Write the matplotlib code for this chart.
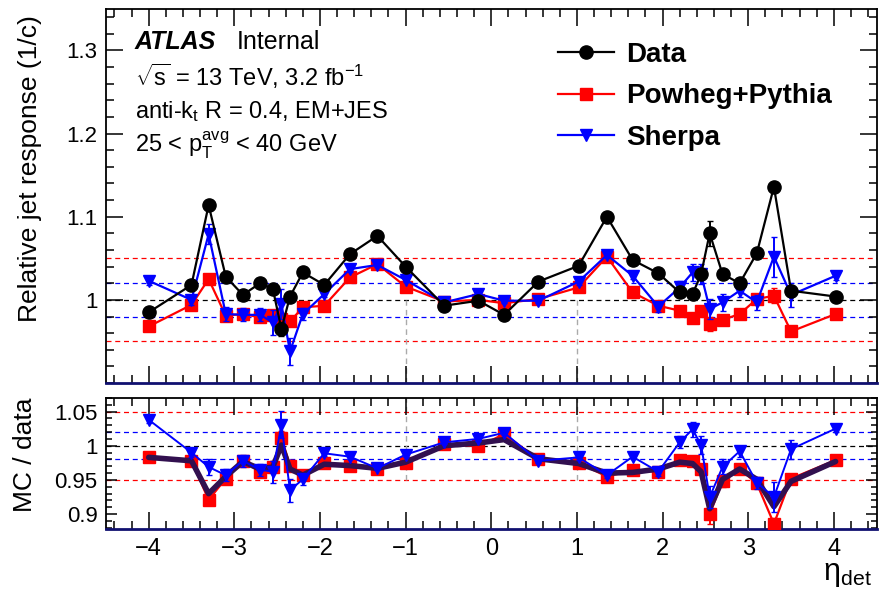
import numpy as np
import matplotlib
matplotlib.use("Agg")
import matplotlib.pyplot as plt
from matplotlib.ticker import MultipleLocator
from matplotlib.lines import Line2D

plt.rcParams["font.family"] = ["Liberation Sans", "DejaVu Sans"]
plt.rcParams["mathtext.fontset"] = "custom"
plt.rcParams["mathtext.rm"] = "Liberation Sans"
plt.rcParams["mathtext.it"] = "Liberation Sans:italic"

# -----------------------------
# Data
# -----------------------------
eta = [-4.0, -3.5, -3.3, -3.1, -2.9, -2.7, -2.55, -2.45, -2.35, -2.2, -1.95, -1.65,
       -1.33, -1.0, -0.55, -0.15, 0.15, 0.55, 1.02, 1.35, 1.65, 1.95, 2.2, 2.35,
       2.45, 2.55, 2.7, 2.9, 3.1, 3.3, 3.5, 4.02]

data = [0.985, 1.018, 1.114, 1.028, 1.006, 1.020, 1.013, 0.965, 1.004, 1.033, 1.018, 1.055,
        1.077, 1.040, 0.993, 0.999, 0.982, 1.022, 1.041, 1.100, 1.048, 1.032, 1.009, 1.007,
        1.031, 1.080, 1.031, 1.020, 1.056, 1.136, 1.011, 1.004]
data_err = [0.003, 0.003, 0.004, 0.004, 0.004, 0.005, 0.005, 0.008, 0.006, 0.005, 0.004, 0.003,
            0.003, 0.003, 0.003, 0.003, 0.003, 0.003, 0.003, 0.003, 0.003, 0.003, 0.004, 0.006,
            0.005, 0.015, 0.006, 0.006, 0.005, 0.005, 0.004, 0.003]

powheg = [0.968, 0.994, 1.025, 0.981, 0.983, 0.979, 0.982, 0.977, 0.974, 0.991, 0.993, 1.027,
          1.043, 1.016, 0.998, 1.000, 0.996, 1.001, 1.015, 1.052, 1.009, 0.993, 0.987, 0.978,
          0.987, 0.971, 0.976, 0.983, 1.001, 1.005, 0.962, 0.983]
powheg_err = [0.003, 0.003, 0.005, 0.005, 0.005, 0.005, 0.006, 0.006, 0.006, 0.004, 0.003, 0.003,
              0.003, 0.003, 0.003, 0.003, 0.003, 0.003, 0.003, 0.003, 0.003, 0.003, 0.004, 0.005,
              0.006, 0.009, 0.006, 0.005, 0.005, 0.009, 0.006, 0.003]

sherpa = [1.023, 1.000, 1.079, 0.983, 0.982, 0.982, 0.973, 0.995, 0.938, 0.983, 1.007, 1.037,
          1.042, 1.024, 0.997, 1.007, 0.999, 0.999, 1.022, 1.054, 1.029, 0.992, 1.015, 1.033,
          1.031, 0.989, 0.997, 1.011, 0.997, 1.052, 1.006, 1.029]
sherpa_err = [0.005, 0.006, 0.012, 0.008, 0.008, 0.008, 0.015, 0.018, 0.016, 0.007, 0.004, 0.004,
              0.003, 0.003, 0.003, 0.003, 0.003, 0.003, 0.004, 0.004, 0.004, 0.006, 0.008, 0.010,
              0.012, 0.012, 0.010, 0.008, 0.009, 0.024, 0.014, 0.005]

# ratios MC / data
powheg_ratio = [0.983, 0.978, 0.921, 0.952, 0.978, 0.962, 0.969, 1.012, 0.971, 0.957, 0.975, 0.971,
                0.966, 0.975, 1.002, 0.999, 1.017, 0.980, 0.975, 0.955, 0.964, 0.962, 0.979, 0.977,
                0.966, 0.900, 0.948, 0.966, 0.945, 0.886, 0.952, 0.979]
powheg_ratio_err = [0.003, 0.003, 0.005, 0.006, 0.006, 0.007, 0.008, 0.010, 0.008, 0.006, 0.004, 0.003,
                    0.003, 0.003, 0.003, 0.003, 0.003, 0.003, 0.003, 0.003, 0.003, 0.003, 0.005, 0.007,
                    0.008, 0.014, 0.008, 0.007, 0.006, 0.009, 0.007, 0.003]

sherpa_ratio = [1.038, 0.990, 0.969, 0.957, 0.978, 0.965, 0.962, 1.031, 0.935, 0.951, 0.989, 0.984,
                0.967, 0.987, 1.005, 1.010, 1.019, 0.978, 0.983, 0.957, 0.984, 0.962, 1.005, 1.024,
                1.001, 0.925, 0.969, 0.992, 0.946, 0.925, 0.995, 1.025]
sherpa_ratio_err = [0.005, 0.006, 0.012, 0.009, 0.009, 0.009, 0.016, 0.020, 0.017, 0.008, 0.004, 0.004,
                    0.003, 0.003, 0.003, 0.003, 0.003, 0.003, 0.004, 0.004, 0.004, 0.006, 0.009, 0.011,
                    0.013, 0.016, 0.011, 0.008, 0.009, 0.022, 0.014, 0.005]

smooth_ratio = [0.983, 0.978, 0.930, 0.955, 0.977, 0.966, 0.969, 1.001, 0.966, 0.957, 0.973, 0.971,
                0.967, 0.976, 1.000, 1.004, 1.009, 0.981, 0.974, 0.960, 0.961, 0.966, 0.976, 0.974,
                0.962, 0.908, 0.951, 0.966, 0.951, 0.911, 0.948, 0.977]

# -----------------------------
# Figure
# -----------------------------
fig = plt.figure(figsize=(8.82, 5.92), dpi=100)
ax1 = fig.add_axes([0.120, 0.353, 0.874, 0.632])
ax2 = fig.add_axes([0.120, 0.106, 0.874, 0.222])

for ax in (ax1, ax2):
    ax.set_xlim(-4.5, 4.5)
    ax.xaxis.set_major_locator(MultipleLocator(1))
    ax.xaxis.set_minor_locator(MultipleLocator(0.2))
    ax.tick_params(which="both", direction="in", top=True, right=True, width=1.1,
                   labelsize=16, pad=6)
    for s in ax.spines.values():
        s.set_linewidth(1.3)
    ax.spines["bottom"].set_color("#101070")
    ax.spines["bottom"].set_linewidth(2)

# reference lines
for ax in (ax1, ax2):
    ax.axhline(1.0, color="black", ls=(0, (4, 3)), lw=0.9, zorder=1)
    ax.axhline(1.02, color="blue", ls=(0, (4, 3)), lw=0.9, zorder=1)
    ax.axhline(0.98, color="blue", ls=(0, (4, 3)), lw=0.9, zorder=1)
    ax.axhline(1.05, color="red", ls=(0, (4, 3)), lw=0.9, zorder=1)
    ax.axhline(0.95, color="red", ls=(0, (4, 3)), lw=0.9, zorder=1)

# -----------------------------
# Top panel
# -----------------------------
ax1.set_ylim(0.9, 1.35)
ax1.yaxis.set_minor_locator(MultipleLocator(0.02))
ax1.tick_params(which="major", length=12)
ax1.tick_params(which="minor", length=6)
ax1.tick_params(axis="x", labelbottom=False)
ax1.set_yticks([1.0, 1.1, 1.2, 1.3])
ax1.set_yticklabels(["1", "1.1", "1.2", "1.3"])
ax1.vlines([-1, 1], 0.9, 1.0, colors="#aaaaaa", linestyles=(0, (4, 3)), lw=1, zorder=1)

ax1.errorbar(eta, powheg, yerr=powheg_err, color="red", marker="s", ms=8.5, lw=1.6,
             capsize=2.5, elinewidth=1.4, zorder=3)
ax1.errorbar(eta, sherpa, yerr=sherpa_err, color="blue", marker="v", ms=9, lw=1.6,
             capsize=2.5, elinewidth=1.4, zorder=4)
ax1.errorbar(eta, data, yerr=data_err, color="black", marker="o", ms=9.5, lw=1.6,
             capsize=2.5, elinewidth=1.4, zorder=5)

handles = [Line2D([], [], color="black", marker="o", ms=9.5, lw=1.6),
           Line2D([], [], color="red", marker="s", ms=8.5, lw=1.6),
           Line2D([], [], color="blue", marker="v", ms=9, lw=1.6)]
ax1.legend(handles, ["Data", "Powheg+Pythia", "Sherpa"], loc="upper left",
           bbox_to_anchor=(558 / 882, 1 - 42 / 592), bbox_transform=fig.transFigure,
           frameon=False, borderpad=0, borderaxespad=0, handlelength=2.0,
           handletextpad=0.45, labelspacing=0.55, prop={"weight": "bold", "size": 20})

fig.text(0.153, 0.917, "ATLAS", fontsize=18, fontweight="bold", fontstyle="italic", va="baseline")
fig.text(0.268, 0.917, "Internal", fontsize=18, va="baseline")
fig.text(0.153, 0.855, r"$\sqrt{\mathrm{s}}$ = 13 TeV, 3.2 fb$^{-1}$", fontsize=17, va="baseline")
fig.text(0.153, 0.801, r"anti-k$_\mathrm{t}$ R = 0.4, EM+JES", fontsize=17, va="baseline")
fig.text(0.153, 0.742, r"25 < $\mathrm{p}_\mathrm{T}^\mathrm{avg}$ < 40 GeV", fontsize=17, va="baseline")

fig.text(0.034, 0.975, "Relative jet response (1/c)", rotation=90, fontsize=19,
         ha="center", va="top")

# -----------------------------
# Ratio panel
# -----------------------------
ax2.set_ylim(0.878, 1.07)
ax2.set_yticks([0.9, 0.95, 1.0, 1.05])
ax2.set_yticklabels(["0.9", "0.95", "1", "1.05"])
ax2.yaxis.set_minor_locator(MultipleLocator(0.01))
ax2.tick_params(axis="x", which="major", length=12, labelsize=17)
ax2.tick_params(axis="x", which="minor", length=6)
ax2.tick_params(axis="y", which="major", length=8)
ax2.tick_params(axis="y", which="minor", length=4)
ax2.vlines([-1, 1], 0.95, 1.07, colors="#aaaaaa", linestyles=(0, (4, 3)), lw=1, zorder=1)

ax2.errorbar(eta, powheg_ratio, yerr=powheg_ratio_err, color="red", marker="s", ms=8.5,
             lw=1.6, capsize=2.5, elinewidth=1.4, zorder=3)
ax2.plot(eta, smooth_ratio, color="#32104f", lw=4, solid_joinstyle="round",
         solid_capstyle="round", zorder=4)
ax2.errorbar(eta, sherpa_ratio, yerr=sherpa_ratio_err, color="blue", marker="v", ms=9,
             lw=1.4, capsize=2.5, elinewidth=1.4, zorder=5)

fig.text(0.028, 0.328, "MC / data", rotation=90, fontsize=19, ha="center", va="top")
fig.text(0.988, 0.005, r"η$_\mathrm{det}$", fontsize=22, ha="right", va="bottom")

fig.savefig("out.png", dpi=100)
